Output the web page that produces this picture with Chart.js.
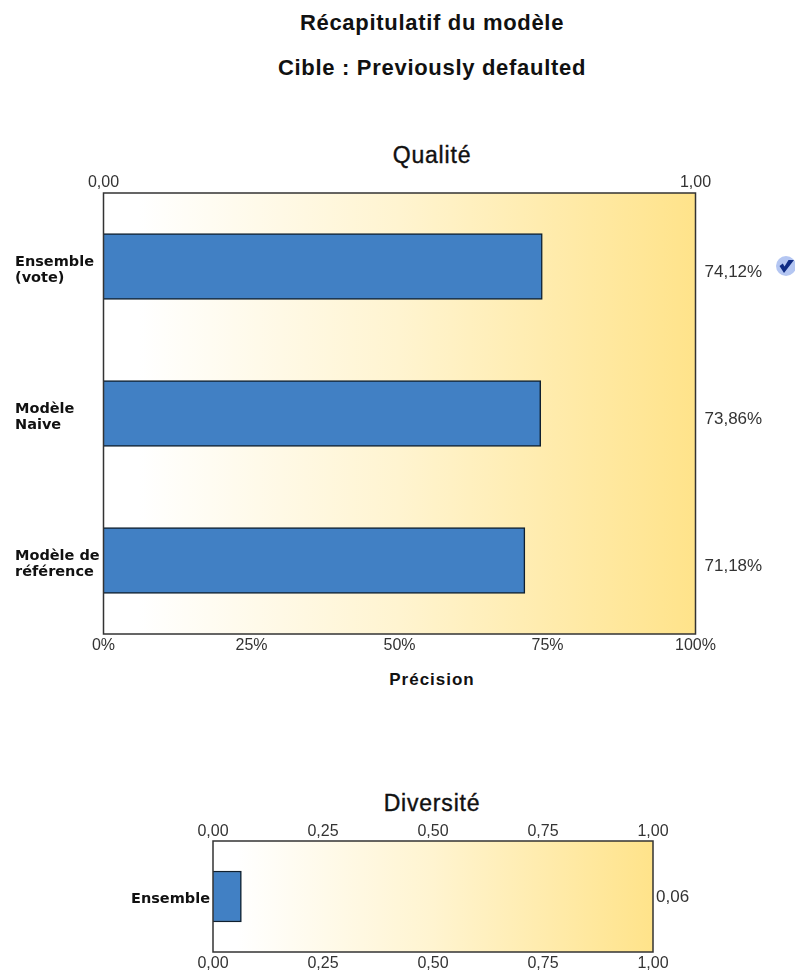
<!DOCTYPE html>
<html lang="fr"><head><meta charset="utf-8">
<script src="https://cdn.jsdelivr.net/npm/chart.js@4"></script>
<style>
html,body{margin:0;padding:0;background:#fff;width:795px;height:970px;overflow:hidden}
.t{position:absolute;left:0;width:864px;text-align:center;font-family:"Liberation Sans",Arial,sans-serif;color:#111;white-space:nowrap;line-height:24px}
.main{font-size:22px;font-weight:bold;letter-spacing:.7px}
.sub{font-size:23px;letter-spacing:.8px;-webkit-text-stroke:.4px #111}
canvas{position:absolute;left:0}
#c1w,#c2w{position:absolute;left:0;width:795px}
#c1w{top:170px;height:520px}
#c2w{top:820px;height:150px}
#ok{position:absolute;left:775px;top:255px}
</style></head><body>
<div class="t main" style="top:11px">Récapitulatif du modèle</div>
<div class="t main" style="top:56px">Cible : Previously defaulted</div>
<div class="t sub" style="top:143px">Qualité</div>
<div class="t" style="top:668px;font-size:17px;font-weight:bold;letter-spacing:1px">Précision</div>
<div class="t sub" style="top:791px">Diversité</div>
<div id="c1w"><canvas id="c1"></canvas></div>
<div id="c2w"><canvas id="c2"></canvas></div>
<svg id="ok" width="20" height="22" viewBox="0 0 20 22"><circle cx="11" cy="11" r="10" fill="#b4c6f2"/><path d="M4.5 11 L9 18 L19 5 L13.5 5 L9.5 11.5 L7.8 8.5 Z" fill="#102c85"/></svg>
<script>
const models = [["Ensemble","(vote)"],["Modèle","Naive"],["Modèle de","référence"]];
const accuracy = [74.12,73.86,71.18];
const accuracyLabels = ["74,12%","73,86%","71,18%"];
const accuracyTicks = [0,25,50,75,100];
const qualityTopTicks = [0,1];
const diversityCategory = ["Ensemble"];
const diversity = [0.0645];
const diversityLabels = ["0,06"];
const diversityTicks = [0,0.25,0.5,0.75,1];

const FONT='"Liberation Sans",Arial,sans-serif';
const TICK={family:FONT,size:16};
const VAL={family:FONT,size:17};
const TC='#333';
const fr2=v=>v.toFixed(2).replace('.',',');

const backdrop={id:'backdrop',
 beforeDatasetsDraw(ch){const a=ch.chartArea,c=ch.ctx;
  const g=c.createLinearGradient(a.left,0,a.right,0);
  const s=ch.options.plugins.backdrop.start;
  g.addColorStop(0,'#ffffff');g.addColorStop(s,'#ffffff');
  g.addColorStop(0.5,'#fff4d0');g.addColorStop(1,'#ffe38a');
  c.save();c.fillStyle=g;c.fillRect(a.left,a.top,a.width,a.height);c.restore();},
 afterDatasetsDraw(ch){const a=ch.chartArea,c=ch.ctx;
  c.save();c.strokeStyle='#333';c.lineWidth=1.5;c.strokeRect(a.left,a.top,a.width,a.height);c.restore();}};

function fit(prop,val){return s=>{s[prop]=val;};}
function hAxis(pos,min,max,ticks,cb,size,pad){
 return {type:'linear',position:pos,min,max,
  afterFit:fit('height',size),
  afterBuildTicks:s=>{s.ticks=ticks.map(v=>({value:v}));},
  grid:{display:false,drawTicks:false},border:{display:false},
  ticks:{font:TICK,color:TC,padding:pad,maxRotation:0,autoSkip:false,callback:cb}};
}
function vAxis(pos,labels,w,font,color,extra){
 return {type:'category',position:pos,labels,offset:true,afterFit:fit('width',w),
  grid:{display:false,drawTicks:false},border:{display:false},
  ticks:Object.assign({font,color,autoSkip:false},extra)};
}

new Chart(document.getElementById('c1'),{type:'bar',
 data:{labels:models,datasets:[{data:accuracy,xAxisID:'x',yAxisID:'y',backgroundColor:'#4180c4',borderColor:'#10202f',borderWidth:1.5,barThickness:66}]},
 plugins:[backdrop],
 options:{indexAxis:'y',responsive:true,maintainAspectRatio:false,animation:false,
  layout:{padding:{left:15}},
  plugins:{legend:{display:false},tooltip:{enabled:false},title:{display:false},backdrop:{start:0.06}},
  scales:{
   x:hAxis('bottom',0,100,accuracyTicks,v=>v+'%',56,2),
   x2:hAxis('top',0,1,qualityTopTicks,v=>fr2(v),23,1),
   y:vAxis('left',models,88.5,{family:'"DejaVu Sans"',size:14.5,weight:'bold',lineHeight:1.1},'#111',{crossAlign:'far',padding:0,labelOffset:4}),
   y2:vAxis('right',accuracyLabels,99.5,VAL,TC,{padding:9,labelOffset:6})
  }}});

new Chart(document.getElementById('c2'),{type:'bar',
 data:{labels:diversityCategory,datasets:[{data:diversity,xAxisID:'x',yAxisID:'y',backgroundColor:'#4180c4',borderColor:'#10202f',borderWidth:1.5,barThickness:51}]},
 plugins:[backdrop],
 options:{indexAxis:'y',responsive:true,maintainAspectRatio:false,animation:false,
  layout:{padding:0},
  plugins:{legend:{display:false},tooltip:{enabled:false},title:{display:false},backdrop:{start:0.055}},
  scales:{
   x:hAxis('bottom',0,1,diversityTicks,v=>fr2(v),18,2),
   x2:hAxis('top',0,1,diversityTicks,v=>fr2(v),21,0),
   y:vAxis('left',diversityCategory,213,{family:'"DejaVu Sans"',size:14.5,weight:'bold'},'#111',{padding:3,labelOffset:3}),
   y2:vAxis('right',diversityLabels,142,VAL,TC,{padding:3,labelOffset:1})
  }}});
</script>
</body></html>
